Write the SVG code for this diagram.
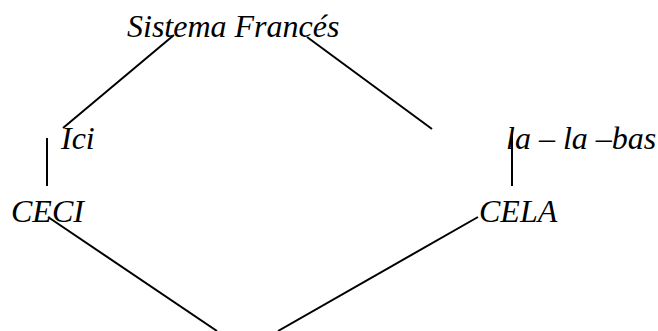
<svg xmlns="http://www.w3.org/2000/svg" width="658" height="331" viewBox="0 0 658 331">
<style>
text{font-family:"Liberation Serif","Times New Roman",serif;font-style:italic;font-size:32px;fill:#000}
.c line{stroke:#000;stroke-width:2;fill:none}
</style>
<rect width="658" height="331" fill="#fff"/>
<g id="sistema"><text x="127" y="37">Sistema Francés</text></g>
<g id="ici"><text x="61" y="149">Ici</text></g>
<g id="labas"><text x="506" y="149">la – la –bas</text></g>
<g id="ceci"><text x="11" y="222">CECI</text></g>
<g id="cela"><text x="479" y="222">CELA</text></g>
<g class="c" id="connectors">
<line x1="174" y1="35" x2="63" y2="128"/>
<line x1="307" y1="37" x2="432" y2="129"/>
<line x1="47" y1="138" x2="47" y2="186"/>
<line x1="512" y1="133" x2="512" y2="186"/>
<line x1="48" y1="217" x2="217" y2="331"/>
<line x1="478" y1="217" x2="278" y2="331"/>
</g>
</svg>
